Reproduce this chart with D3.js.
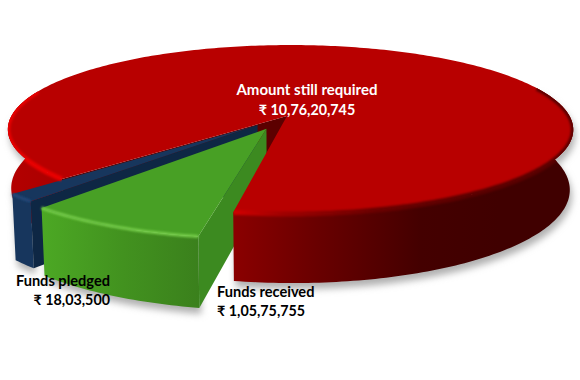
<!DOCTYPE html>
<html><head><meta charset="utf-8">
<script src="https://cdn.jsdelivr.net/npm/d3@7"></script>
<style>html,body{margin:0;padding:0;background:#fff}svg{display:block}
text{font-family:Lato,"Noto Sans",sans-serif;font-weight:700}</style>
</head><body><svg id="c" width="580" height="380"></svg>
<script>
const categories = ["Amount still required", "Funds received", "Funds pledged"];
const values = [107620745, 10575755, 1803500];
const valueLabels = ["₹ 10,76,20,745", "₹ 1,05,75,755", "₹ 18,03,500"];
const explode = [0, 0.225, 0.2];
const colors = ["#b80000", "#48a025", "#17365d"];

const W = 580, H = 380, deg = Math.PI / 180;
const svg = d3.select("#c");
const defs = svg.append("defs");
const blur = (id, s) => defs.append("filter").attr("id", id)
  .attr("x", "-20%").attr("y", "-20%").attr("width", "140%").attr("height", "140%")
  .append("feGaussianBlur").attr("stdDeviation", s);
blur("b1", 1.3); blur("b5", 3.5);

const grad = (id, x1, x2, stops) => {
  const g = defs.append("linearGradient").attr("id", id)
    .attr("gradientUnits", "userSpaceOnUse")
    .attr("x1", x1).attr("x2", x2).attr("y1", 0).attr("y2", 0);
  stops.forEach(s => g.append("stop").attr("offset", s[0]).attr("stop-color", s[1]));
};
grad("redFront", 235, 500, [[0, "#8a0000"], [0.3, "#6a0000"], [0.7, "#440000"], [1, "#400000"]]);
grad("redLeft", 8, 70, [[0, "#b40000"], [1, "#a80000"]]);
grad("redBevelR", 235, 470, [[0, "#d00000"], [0.2, "#a00000"], [0.6, "#6a0000"], [1, "#5a0000"]]);
grad("greenFront", 42, 204, [[0, "#4ca824"], [0.5, "#42921f"], [1, "#3a7f1c"]]);

// perspective projection of the disc
const k = 0.16, j = 0.0124, x0 = 287, y0 = 116, A = 279, a = 82.3, D = 58, taper = 0.012, apexPull = 0.75;
const proj = (u, v, z) => {
  const w = 1 - k * v - j * u;
  return [x0 + A * u / w * (1 - taper * z), y0 + (a * v + D * z) / w];
};
const pie = d3.pie().sort(null).startAngle(226.5 * deg).endAngle(586.5 * deg);
const arcs = pie(values);
const line = d3.line();

const rimPts = (t0, t1, e, z) => {
  const n = Math.max(4, Math.ceil(Math.abs(t1 - t0) / deg));
  return d3.range(n + 1).map(i => {
    const t = t0 + (t1 - t0) * i / n;
    return proj(Math.sin(t) + e[0], -Math.cos(t) + e[1], z);
  });
};
const offs = arcs.map((d, i) => {
  const m = (d.startAngle + d.endAngle) / 2;
  return [explode[i] * Math.sin(m), -explode[i] * Math.cos(m)];
});
const wall = (t0, t1, e) => {
  const top = rimPts(t0, t1, e, 0), bot = rimPts(t0, t1, e, 1).reverse();
  return line(top.concat(bot)) + "Z";
};
const radial = (t, e) => {
  const c0 = proj(e[0] * apexPull, e[1] * apexPull, 0), c1 = proj(e[0] * apexPull, e[1] * apexPull, 1);
  const r0 = proj(Math.sin(t) + e[0], -Math.cos(t) + e[1], 0);
  const r1 = proj(Math.sin(t) + e[0], -Math.cos(t) + e[1], 1);
  return line([c0, r0, r1, c1]) + "Z";
};
const topFace = (t0, t1, e) => line([proj(e[0] * apexPull, e[1] * apexPull, 0)].concat(rimPts(t0, t1, e, 0))) + "Z";

const red = arcs[0], green = arcs[1], blue = arcs[2];
const re = offs[0], ge = offs[1], be = offs[2];
const turn = 2 * Math.PI;
const leftSpan = 62 * deg, rightSpan = 120 * deg;
const redLeftWall = wall(red.startAngle, red.startAngle + leftSpan, re);
const redRightWall = wall(red.endAngle - turn - rightSpan, red.endAngle - turn, re);
const redTop = topFace(red.startAngle, red.endAngle, re);

// clip bevel strokes to the solid
const clip = defs.append("clipPath").attr("id", "redClip");
[redLeftWall, redRightWall, redTop].forEach(d => clip.append("path").attr("d", d));

// soft ground shadow
const shadow = svg.append("g").attr("filter", "url(#b5)").attr("fill", "#b0b0b0")
  .attr("transform", "translate(2,6)");
shadow.append("path").attr("d", redRightWall);
shadow.append("path").attr("d", wall(green.startAngle, green.endAngle, ge));
shadow.append("path").attr("d", wall(blue.startAngle, blue.endAngle, be));
shadow.append("path").attr("d", redLeftWall);

// red left wall and inner wall
svg.append("path").attr("d", redLeftWall).attr("fill", "url(#redLeft)");
svg.append("path").attr("d", radial(red.startAngle, re)).attr("fill", "#5c0000");

// blue slice
svg.append("path").attr("d", wall(blue.startAngle, blue.endAngle, be)).attr("fill", "#17365d");
svg.append("path").attr("d", radial(blue.startAngle, be)).attr("fill", "#0e2744");
svg.append("path").attr("d", topFace(blue.startAngle, blue.endAngle, be)).attr("fill", colors[2]);
svg.append("path").attr("d", line(rimPts(blue.startAngle, blue.endAngle, be, 0)))
  .attr("fill", "none").attr("stroke", "#21487a").attr("stroke-width", 3).attr("filter", "url(#b1)");

// green slice
svg.append("path").attr("d", wall(green.startAngle, green.endAngle, ge)).attr("fill", "url(#greenFront)");
svg.append("path").attr("d", radial(green.startAngle, ge)).attr("fill", "#3c8a20");
svg.append("path").attr("d", topFace(green.startAngle, green.endAngle, ge)).attr("fill", colors[1]);
svg.append("path").attr("d", line(rimPts(green.startAngle, green.endAngle, ge, 0)))
  .attr("fill", "none").attr("stroke", "#74cc48").attr("stroke-width", 3).attr("filter", "url(#b1)");

// red outer wall, top face and bevels
svg.append("path").attr("d", redRightWall).attr("fill", "url(#redFront)");
svg.append("path").attr("d", redTop).attr("fill", colors[0]);
const bevels = svg.append("g").attr("clip-path", "url(#redClip)");
bevels.append("path").attr("d", line(rimPts(red.startAngle, red.startAngle + leftSpan, re, 0)))
  .attr("fill", "none").attr("stroke", "#e80000").attr("stroke-width", 5).attr("filter", "url(#b1)");
bevels.append("path").attr("d", line(rimPts(red.endAngle - turn - rightSpan, red.endAngle - turn, re, 0)))
  .attr("fill", "none").attr("stroke", "url(#redBevelR)").attr("stroke-width", 5).attr("filter", "url(#b1)");

// labels
const labelPos = [
  { x: 307, y1: 95, y2: 115, anchor: "middle", fill: "#fff", s1: 15, s2: 14.3 },
  { x: 217, y1: 297, y2: 316, anchor: "start", fill: "#000", s1: 14.6, s2: 14.3 },
  { x: 110, y1: 286, y2: 305, anchor: "end", fill: "#000", s1: 14.6, s2: 14.3 }
];
categories.forEach((c, i) => {
  const p = labelPos[i];
  const t = svg.append("text").attr("text-anchor", p.anchor).attr("fill", p.fill);
  t.append("tspan").attr("x", p.x).attr("y", p.y1).attr("font-size", p.s1).text(c);
  t.append("tspan").attr("x", p.x).attr("y", p.y2).attr("font-size", p.s2).text(valueLabels[i]);
});
</script></body></html>
